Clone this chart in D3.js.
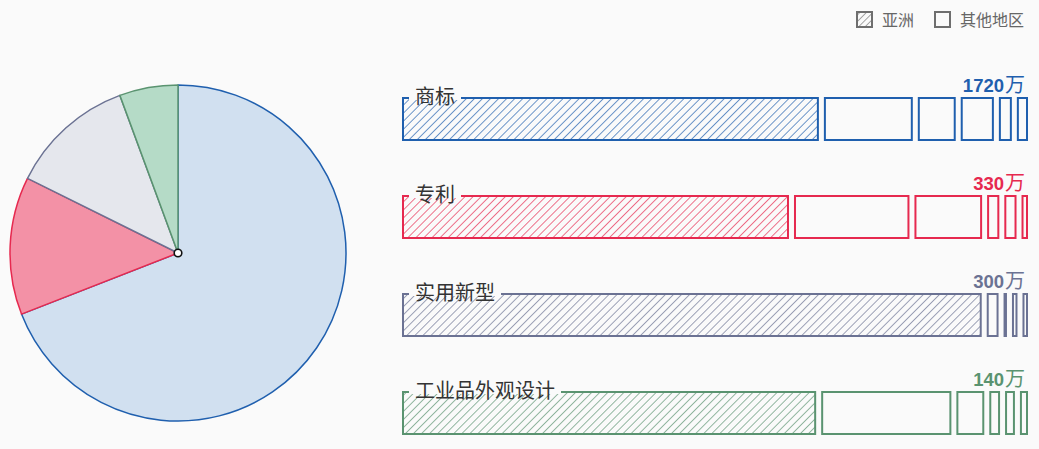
<!DOCTYPE html>
<html>
<head>
<meta charset="utf-8">
<script src="https://cdn.jsdelivr.net/npm/d3@7/dist/d3.min.js"></script>
<style>
  html, body { margin: 0; padding: 0; background: #fafafa; }
  svg { display: block; font-family: "Noto Sans CJK SC", "Noto Sans", sans-serif; }
</style>
</head>
<body>
<svg id="chart" width="1039" height="449"></svg>
<script>
// ---- data ----
const categories = ["商标", "专利", "实用新型", "工业品外观设计"];
const totals = [1720, 330, 300, 140];
const unit = "万";
// region breakdown per category (first value = 亚洲, rest = 其他地区)
const regionValues = [
  [1150, 256, 117, 104, 49, 44],
  [205, 63, 38, 9, 9, 6],
  [278, 8, 4, 5, 5],
  [93, 30, 7.3, 3.5, 3.3, 2.9]
];
const legendLabels = ["亚洲", "其他地区"];
const strokeColors = ["#1f5fae", "#e6294f", "#6b7293", "#5a9370"];
const fillColors = ["#d1e0f0", "#f391a6", "#e5e7ed", "#b5dbc7"];

// ---- setup ----
const svg = d3.select("#chart");
const W = 1039, H = 449;
const bg = "#fafafa";
svg.append("rect").attr("width", W).attr("height", H).attr("fill", bg);

const defs = svg.append("defs");
function hatch(id, color, size) {
  const p = defs.append("pattern")
    .attr("id", id).attr("patternUnits", "userSpaceOnUse")
    .attr("width", size).attr("height", size)
    .attr("patternTransform", "rotate(45)");
  p.append("line").attr("x1", 0).attr("y1", 0).attr("x2", 0).attr("y2", size)
    .attr("stroke", color).attr("stroke-width", 1.3);
}
strokeColors.forEach((c, i) => hatch("hatch" + i, c, 5.7));
hatch("hatchLegend", "#777", 4.6);

// ---- pie ----
const cx = 178, cy = 253, R = 168;
const pie = d3.pie().sort(null).value(d => d)(totals);
const arc = d3.arc().innerRadius(0).outerRadius(R);
const pg = svg.append("g").attr("transform", `translate(${cx},${cy})`);
pg.selectAll("path").data(pie).join("path")
  .attr("d", arc)
  .attr("fill", (d, i) => fillColors[i])
  .attr("stroke", (d, i) => strokeColors[i])
  .attr("stroke-width", 1.5)
  .attr("stroke-linejoin", "round");
pg.append("circle").attr("r", 3.8).attr("fill", "#fff").attr("stroke", "#111").attr("stroke-width", 1.6);

// ---- bars ----
const y = d3.scaleBand().domain(categories).range([98, 490]).paddingInner(0);
const barH = 42, gap = 7;

categories.forEach((cat, ci) => {
  const vals = regionValues[ci];
  const x = d3.scaleLinear().domain([0, totals[ci]]).range([399.5, 1030.5]);
  let acc = 0;
  const segs = vals.map((v, k) => { const s = { start: acc, end: acc + v, k }; acc += v; return s; });
  const g = svg.append("g");
  const top = y(cat);
  g.selectAll("rect.seg").data(segs).join("rect")
    .attr("class", "seg")
    .attr("x", d => x(d.start) + gap / 2)
    .attr("y", top)
    .attr("width", d => Math.max(0, x(d.end) - x(d.start) - gap))
    .attr("height", barH)
    .attr("fill", d => d.k === 0 ? `url(#hatch${ci})` : "none")
    .attr("stroke", strokeColors[ci])
    .attr("stroke-width", 2);

  // category label with background
  const lbl = g.append("text")
    .attr("x", 415).attr("y", top + 6)
    .attr("font-size", 20).attr("fill", "#333")
    .text(cat);
  const bb = lbl.node().getBBox();
  g.insert("rect", "text")
    .attr("x", bb.x - 6).attr("y", top - 4)
    .attr("width", bb.width + 12).attr("height", 6)
    .attr("fill", bg);

  // value label
  const vt = g.append("text")
    .attr("x", 1025).attr("y", top - 6)
    .attr("text-anchor", "end")
    .attr("fill", strokeColors[ci]);
  vt.append("tspan").attr("font-family", "Liberation Sans, Arial, sans-serif")
    .attr("font-weight", "bold").attr("font-size", 18.5).text(totals[ci]);
  vt.append("tspan").attr("font-size", 20).attr("dx", 1).text(unit);
});

// ---- legend ----
const lg = svg.append("g");
const legendX = [856, 934];
legendLabels.forEach((t, i) => {
  lg.append("rect").attr("x", legendX[i] + 1).attr("y", 12).attr("width", 15).attr("height", 15)
    .attr("fill", i === 0 ? "url(#hatchLegend)" : "none")
    .attr("stroke", "#6e6e6e").attr("stroke-width", 2);
  lg.append("text").attr("x", legendX[i] + 26).attr("y", 26)
    .attr("font-size", 16).attr("fill", "#666").text(t);
});
</script>
</body>
</html>
